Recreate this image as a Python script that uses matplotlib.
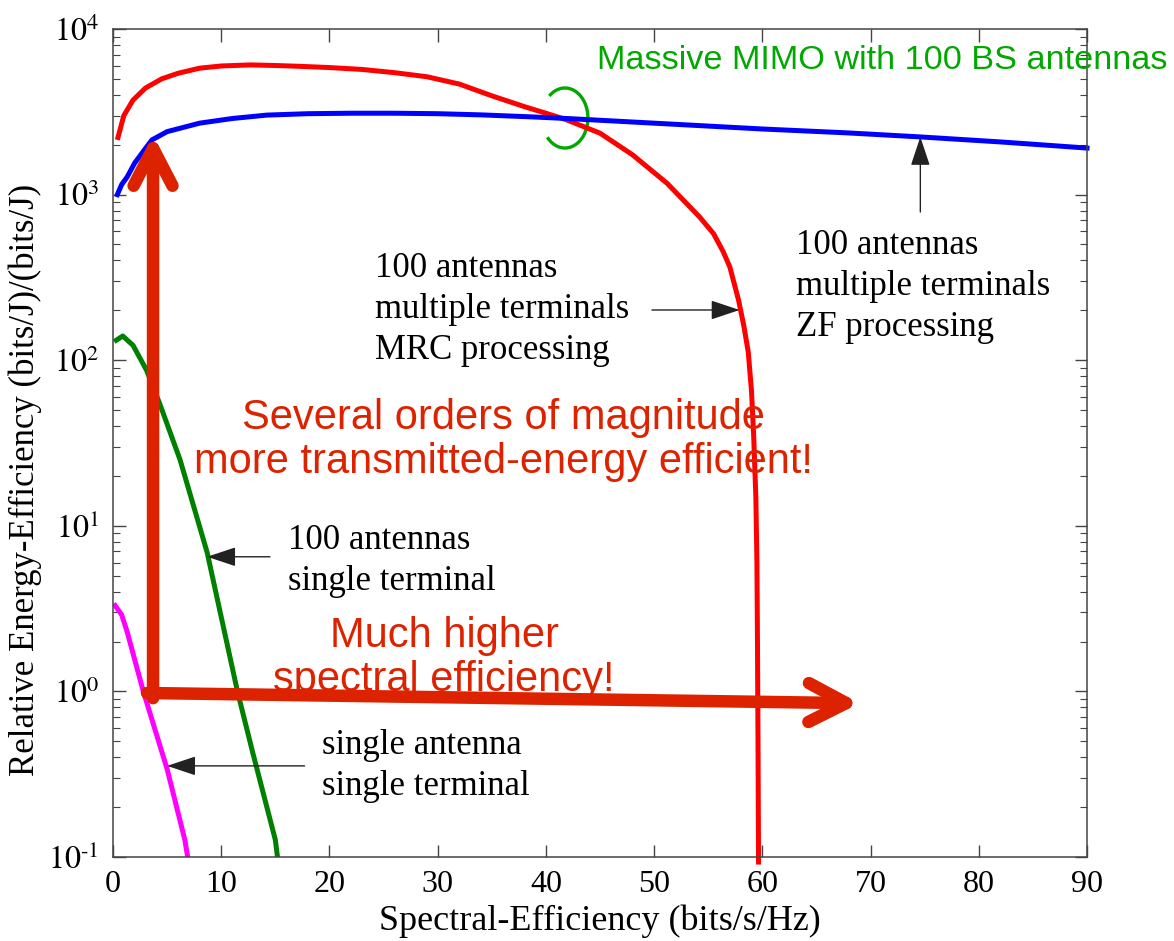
import numpy as np
import matplotlib
matplotlib.use("Agg")
import matplotlib.pyplot as plt
from matplotlib.patches import Arc
from matplotlib.ticker import FuncFormatter, LogLocator

# curves
mrc_x = [0.4, 1.0, 1.85, 3.0, 4.5, 6.0, 8.0, 10.0, 12.7, 15.0, 17.3, 20.0, 23.0, 26.0, 29.0,
         32.0, 35.0, 38.0, 40.0, 41.9, 45.0, 48.0, 51.2, 54.2, 55.5, 56.4, 57.0, 57.8, 58.3,
         58.7, 59.0, 59.2, 59.4, 59.5, 59.55, 59.6, 59.65]
mrc_y = [2140, 3000, 3720, 4400, 5000, 5400, 5800, 5980, 6070, 6020, 5950, 5850, 5700, 5450,
         5150, 4650, 3950, 3400, 3100, 2830, 2350, 1740, 1170, 733, 580, 450, 365, 231, 160,
         112, 65, 35, 15, 6, 2, 0.5, 0.09]

zf_x = [0.4, 0.8, 1.3, 2.0, 3.0, 3.6, 5.0, 8.0, 11.0, 14.2, 18.0, 22.0, 26.0, 30.0, 34.0,
        38.5, 42.0, 50.0, 60.0, 67.8, 74.6, 82.0, 90.0]
zf_y = [1000, 1150, 1275, 1550, 1900, 2140, 2400, 2700, 2880, 3020, 3080, 3100, 3100, 3080,
        3030, 2950, 2880, 2700, 2490, 2360, 2230, 2080, 1910]

single_term_x = [0.3, 0.9, 1.85, 3.1, 4.3, 6.2, 8.7, 11.5, 12.9, 15.0, 15.2]
single_term_y = [132, 140, 123, 87, 55, 25, 6.9, 1.0, 0.43, 0.127, 0.1]

single_ant_x = [0.2, 0.8, 1.3, 2.8, 5.0, 6.65, 6.9]
single_ant_y = [3.3, 2.9, 2.3, 1.0, 0.34, 0.126, 0.1]

plt.rcParams['font.family'] = ['Liberation Serif', 'DejaVu Serif']
plt.rcParams['mathtext.fontset'] = 'stix'
plt.rcParams['axes.unicode_minus'] = False


def pow10(v, pos):
    # short hyphen in the exponent, like the original
    e = int(round(np.log10(v)))
    if e < 0:
        return r'$10^{\text{-}%d}$' % (-e)
    return r'$10^{%d}$' % e


fig = plt.figure(figsize=(11.74, 9.41), dpi=100)
ax = fig.add_axes([113 / 1174, 1 - 857 / 941, 974 / 1174, 828 / 941])

lw = 3.6
ax.plot(mrc_x, mrc_y, color='#ff0000', lw=lw, solid_capstyle='butt', clip_on=False)
ax.plot(zf_x, zf_y, color='#0000ff', lw=lw, clip_on=False)
ax.plot(single_term_x, single_term_y, color='#008000', lw=lw)
ax.plot(single_ant_x, single_ant_y, color='#ff00ff', lw=lw)

ax.set_yscale('log')
ax.set_xlim(0, 90)
ax.set_ylim(0.1, 1e4)
ax.set_xticks(np.arange(0, 91, 10))
ax.yaxis.set_major_locator(LogLocator(base=10))
ax.yaxis.set_major_formatter(FuncFormatter(pow10))

for s in ax.spines.values():
    s.set_color('#444444')
    s.set_linewidth(1.1)
ax.tick_params(which='both', direction='in', top=True, right=True, color='#444444')
ax.tick_params(which='major', length=9, width=1.0, labelsize=23)
ax.tick_params(which='minor', length=5, width=0.8)
ax.tick_params(axis='x', pad=9)
ax.tick_params(axis='y', pad=10)

ax.set_xlabel('Spectral-Efficiency (bits/s/Hz)', fontsize=26)
ax.set_ylabel('Relative Energy-Efficiency (bits/J)/(bits/J)', fontsize=25)
ax.xaxis.set_label_coords(0.5, -0.057)
ax.yaxis.set_label_coords(-0.073, 0.455)

# black annotations
tsize = 25
ls = 1.32
ax.text(24.2, 201, '100 antennas\nmultiple terminals\nMRC processing', fontsize=tsize,
        va='center', ha='left', linespacing=ls)
ax.text(63.1, 279, '100 antennas\nmultiple terminals\nZF processing', fontsize=tsize,
        va='center', ha='left', linespacing=ls)
ax.text(16.2, 6.12, '100 antennas\nsingle terminal', fontsize=tsize, va='center', ha='left',
        linespacing=ls)
ax.text(19.3, 0.355, 'single antenna\nsingle terminal', fontsize=tsize, va='center', ha='left',
        linespacing=ls)

aprops = dict(arrowstyle='-|>,head_length=0.9,head_width=0.3', color='#222222', lw=1.0,
              shrinkA=0, shrinkB=0, mutation_scale=20)
ax.annotate('', xy=(57.9, 201), xytext=(49.8, 201), arrowprops=aprops)
ax.annotate('', xy=(74.6, 2230), xytext=(74.6, 785), arrowprops=aprops)
ax.annotate('', xy=(8.7, 6.5), xytext=(14.5, 6.5), arrowprops=aprops)
ax.annotate('', xy=(5.0, 0.355), xytext=(17.7, 0.355), arrowprops=aprops)

# red emphasis arrows and texts
red = '#dd2200'
rprops = dict(arrowstyle='->,head_length=1.35,head_width=0.7', color=red, lw=9,
              shrinkA=0, shrinkB=0, mutation_scale=20)
ax.annotate('', xy=(3.7, 2300), xytext=(3.7, 0.91), arrowprops=rprops)
ax.annotate('', xy=(69.0, 0.848), xytext=(3.14, 0.978), arrowprops=rprops)

sans = ['Liberation Sans', 'DejaVu Sans']
ax.text(36.1, 33.0, 'Several orders of magnitude\nmore transmitted-energy efficient!',
        fontsize=30, color=red, family=sans, ha='center', va='center', linespacing=1.15)
ax.text(30.6, 1.59, 'Much higher\nspectral efficiency!',
        fontsize=30, color=red, family=sans, ha='center', va='center', linespacing=1.15)

# green callout
green = '#00a800'
ax.text(0.497, 0.962, 'Massive MIMO with 100 BS antennas', transform=ax.transAxes,
        fontsize=24.7, color=green, family=sans, ha='left', va='center', clip_on=False)
ax.add_patch(Arc((0.464, 0.8925), 0.0472, 0.0725, theta1=-128, theta2=121,
                 transform=ax.transAxes, color=green, lw=2.4, clip_on=False))

fig.savefig('out.png', dpi=100)
